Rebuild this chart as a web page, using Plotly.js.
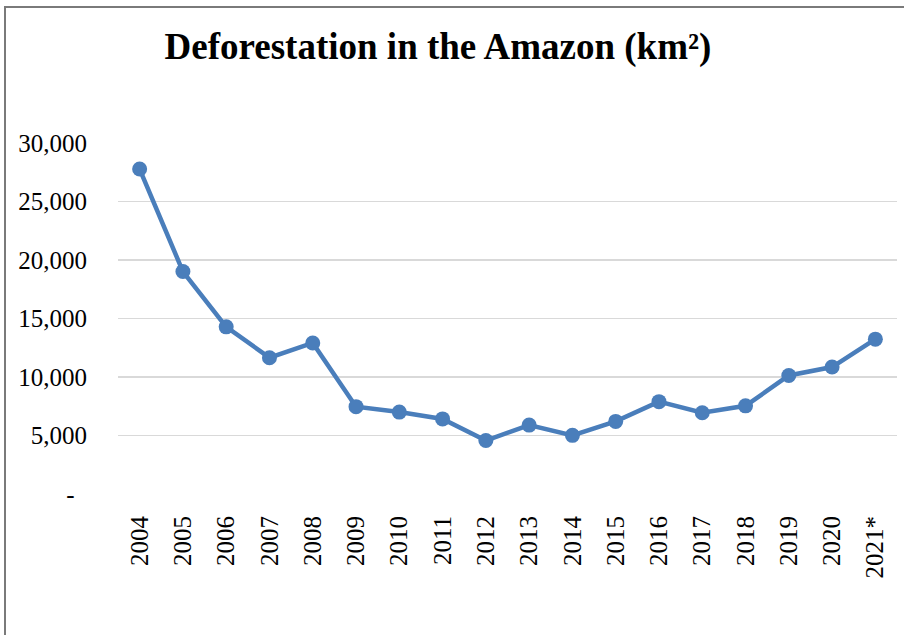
<!DOCTYPE html>
<html>
<head>
<meta charset="utf-8">
<script src="https://cdn.plot.ly/plotly-3.0.1.min.js"></script>
<style>
  html, body { margin: 0; padding: 0; background: #fff; overflow: hidden; }
  #wrap { position: relative; width: 904px; height: 635px; }
  #frame { position: absolute; left: 4px; top: 6px; width: 1000px; height: 1000px; border: 2px solid #7a7a7a; box-sizing: border-box; pointer-events: none; z-index: 5; }
  #chart { position: absolute; left: 0; top: 0; width: 904px; height: 635px; }
</style>
</head>
<body>
<div id="wrap">
  <div id="chart"></div>
  <div id="frame"></div>
</div>
<script>
const years = ["2004","2005","2006","2007","2008","2009","2010","2011","2012","2013","2014","2015","2016","2017","2018","2019","2020","2021*"];
const deforestation = [27772, 19014, 14286, 11651, 12911, 7464, 7000, 6418, 4571, 5891, 5012, 6207, 7893, 6947, 7536, 10129, 10851, 13235];
const yTickVals = [0, 5000, 10000, 15000, 20000, 25000, 30000];
const yTickText = ["-\u00a0\u00a0", "5,000", "10,000", "15,000", "20,000", "25,000", "30,000"];

const trace = {
  x: years,
  y: deforestation,
  type: "scatter",
  mode: "lines+markers",
  line: { color: "#4a7ebb", width: 4.5 },
  marker: { color: "#4a7ebb", size: 15 },
  hoverinfo: "x+y"
};

const layout = {
  width: 904,
  height: 635,
  margin: { l: 118, r: 7, t: 143, b: 141, pad: 0 },
  paper_bgcolor: "#ffffff",
  plot_bgcolor: "#ffffff",
  showlegend: false,
  font: { family: "Liberation Serif, Times New Roman, serif", color: "#000000", size: 25 },
  title: {
    text: "<b>Deforestation in the Amazon (km²)</b>",
    font: { family: "Liberation Serif, Times New Roman, serif", size: 37, color: "#000000" },
    xref: "container", yref: "container",
    x: 438 / 904, xanchor: "center",
    y: 1 - 46 / 635, yanchor: "middle"
  },
  xaxis: {
    type: "category",
    range: [-0.5, years.length - 0.5],
    tickangle: -90,
    showgrid: false,
    zeroline: false,
    showline: false,
    ticks: "",
    ticklabelstandoff: 16,
    tickfont: { family: "Liberation Serif, Times New Roman, serif", size: 25, color: "#000" },
    fixedrange: true
  },
  yaxis: {
    range: [0, 30000],
    tickvals: yTickVals,
    ticktext: yTickText,
    showgrid: true,
    gridcolor: "#d9d9d9",
    gridwidth: 1.3,
    zeroline: false,
    showline: false,
    ticks: "",
    ticklabelstandoff: 30,
    tickfont: { family: "Liberation Serif, Times New Roman, serif", size: 25, color: "#000" },
    fixedrange: true
  }
};

Plotly.newPlot("chart", [trace], layout, { displayModeBar: false, staticPlot: true });
</script>
</body>
</html>
